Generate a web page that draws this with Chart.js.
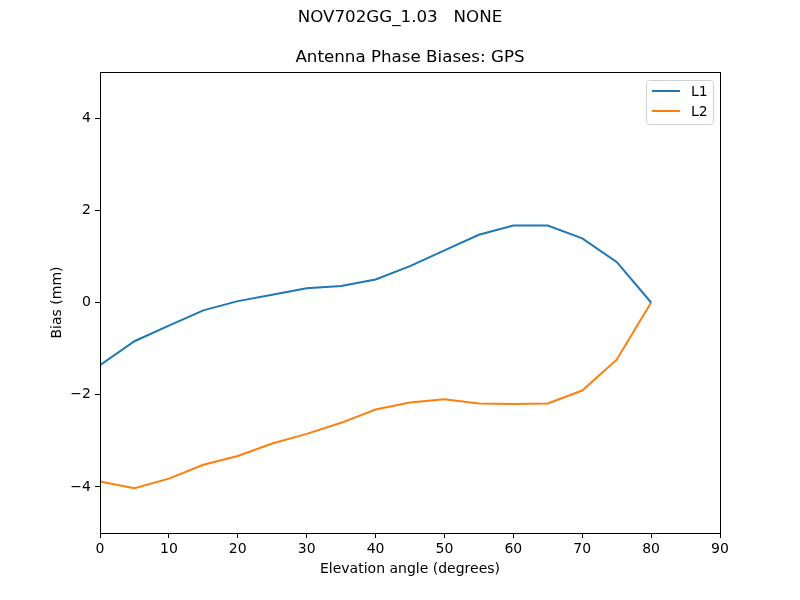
<!DOCTYPE html>
<html lang="en">
<head>
    <meta charset="UTF-8">
    <title>Antenna Phase Biases</title>
    <script src="https://cdn.jsdelivr.net/npm/chart.js"></script>
    <style>
        body { margin: 0; padding: 0; background: #ffffff; }
        #wrap { width: 800px; height: 600px; }
    </style>
</head>
<body>
    <div id="wrap">
        <canvas id="biasChart" width="800" height="600"></canvas>
    </div>
    <script>
        // data
        const elevation = [0, 5, 10, 15, 20, 25, 30, 35, 40, 45, 50, 55, 60, 65, 70, 75, 80];
        const biasL1 = [-1.36, -0.84, -0.50, -0.17, 0.03, 0.17, 0.31, 0.36, 0.50, 0.79, 1.13, 1.47, 1.67, 1.67, 1.39, 0.88, 0.0];
        const biasL2 = [-3.88, -4.03, -3.82, -3.52, -3.33, -3.06, -2.85, -2.61, -2.32, -2.17, -2.10, -2.19, -2.20, -2.19, -1.91, -1.24, 0.0];
        const xTicks = [0, 10, 20, 30, 40, 50, 60, 70, 80, 90];
        const yTicks = [-4, -2, 0, 2, 4];
        const seriesNames = ['L1', 'L2'];
        const seriesColors = ['#1f77b4', '#ff7f0e'];

        const FONT = "'DejaVu Sans', sans-serif";

        function toPoints(values) {
            return elevation.map((e, i) => ({ x: e, y: values[i] }));
        }

        // titles, box and legend drawn like matplotlib
        const decorations = {
            id: 'decorations',
            afterDraw(chart) {
                const c = chart.ctx;
                const a = chart.chartArea;
                c.save();
                // frame
                c.strokeStyle = '#000000';
                c.lineWidth = 1;
                c.strokeRect(Math.round(a.left) + 0.5, Math.round(a.top) + 0.5,
                    Math.round(a.right - a.left), Math.round(a.bottom - a.top));

                c.fillStyle = '#000000';
                c.textAlign = 'center';
                c.textBaseline = 'middle';
                c.font = '16.7px ' + FONT;
                c.fillText('NOV702GG_1.03   NONE', 400, 18);
                c.fillText('Antenna Phase Biases: GPS', (a.left + a.right) / 2, 58);

                c.font = '14px ' + FONT;
                c.fillText('Elevation angle (degrees)', (a.left + a.right) / 2, 569);
                c.save();
                c.translate(57, (a.top + a.bottom) / 2);
                c.rotate(-Math.PI / 2);
                c.fillText('Bias (mm)', 0, 0);
                c.restore();

                // legend box
                const bx = a.right - 74, by = a.top + 8, bw = 67, bh = 44;
                c.beginPath();
                c.roundRect(bx + 0.5, by + 0.5, bw, bh, 3);
                c.fillStyle = 'rgba(255,255,255,0.8)';
                c.fill();
                c.strokeStyle = '#d0d0d0';
                c.stroke();
                seriesNames.forEach((name, i) => {
                    const ly = by + 11 + i * 20;
                    c.strokeStyle = seriesColors[i];
                    c.lineWidth = 2;
                    c.beginPath();
                    c.moveTo(bx + 6, ly);
                    c.lineTo(bx + 34, ly);
                    c.stroke();
                    c.fillStyle = '#000000';
                    c.textAlign = 'left';
                    c.fillText(name, bx + 45, ly + 1);
                });
                c.restore();
            }
        };

        const ctx = document.getElementById('biasChart').getContext('2d');
        const biasChart = new Chart(ctx, {
            type: 'line',
            data: {
                datasets: [
                    {
                        label: seriesNames[0],
                        data: toPoints(biasL1),
                        borderColor: seriesColors[0],
                        backgroundColor: seriesColors[0],
                        borderWidth: 2,
                        pointRadius: 0,
                        tension: 0
                    },
                    {
                        label: seriesNames[1],
                        data: toPoints(biasL2),
                        borderColor: seriesColors[1],
                        backgroundColor: seriesColors[1],
                        borderWidth: 2,
                        pointRadius: 0,
                        tension: 0
                    }
                ]
            },
            options: {
                responsive: false,
                animation: false,
                layout: { padding: { left: 50, right: 80, top: 72, bottom: 20 } },
                plugins: {
                    legend: { display: false },
                    title: { display: false },
                    tooltip: { enabled: false }
                },
                scales: {
                    x: {
                        type: 'linear',
                        min: 0,
                        max: 90,
                        afterBuildTicks: s => { s.ticks = xTicks.map(v => ({ value: v })); },
                        afterFit: s => { s.height = 47; },
                        grid: { display: true, drawOnChartArea: false, drawTicks: true, tickLength: 5, color: '#000000' },
                        border: { display: true, color: '#000000', width: 1 },
                        ticks: {
                            color: '#000000',
                            padding: 3,
                            maxRotation: 0,
                            font: { family: FONT, size: 14 },
                            callback: v => String(v)
                        }
                    },
                    y: {
                        min: -5,
                        max: 5,
                        afterBuildTicks: s => { s.ticks = yTicks.map(v => ({ value: v })); },
                        afterFit: s => { s.width = 50; },
                        grid: { display: true, drawOnChartArea: false, drawTicks: true, tickLength: 5, color: '#000000' },
                        border: { display: true, color: '#000000', width: 1 },
                        ticks: {
                            color: '#000000',
                            padding: 4,
                            font: { family: FONT, size: 14 },
                            callback: v => String(v).replace('-', '\u2212')
                        }
                    }
                }
            },
            plugins: [decorations]
        });
    </script>
</body>
</html>
